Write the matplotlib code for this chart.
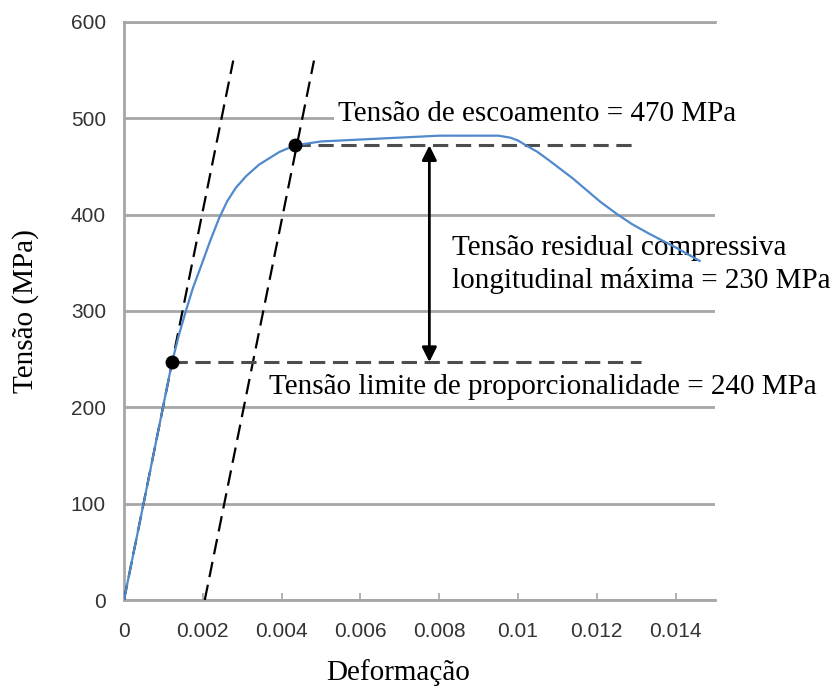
import numpy as np
import matplotlib
matplotlib.use("Agg")
import matplotlib.pyplot as plt

# ---- data ----
strain = [0, 0.0006, 0.00122, 0.00140, 0.00157, 0.00175, 0.00195, 0.00218, 0.00241,
          0.00262, 0.00284, 0.00310, 0.00343, 0.00394, 0.00434, 0.0050, 0.0060, 0.0070,
          0.0080, 0.0090, 0.0095, 0.0098, 0.0100, 0.0102, 0.0105, 0.0108, 0.01138,
          0.0121, 0.0125, 0.0129, 0.01334, 0.0140, 0.01461]
stress = [0, 121, 247, 276, 300, 324, 346, 372, 396,
          414, 428, 440, 452, 465, 472, 476, 478, 480,
          482, 482, 482, 480, 477, 472, 465, 456, 438,
          413, 401, 390, 380, 366, 352]

E_mod = 202000          # slope of the elastic dashed lines (MPa)
offset = 0.00205        # offset of second elastic line
line_top = 560          # top stress of elastic dashed lines
prop_pt = (0.00122, 247)
yield_pt = (0.00434, 472)
hline_end = [0.01296, 0.01313]
arrow_x = 0.00775

xticks = [0, 0.002, 0.004, 0.006, 0.008, 0.01, 0.012, 0.014]
xticklabels = ["0", "0.002", "0.004", "0.006", "0.008", "0.01", "0.012", "0.014"]
yticks = [0, 100, 200, 300, 400, 500, 600]

serif = "Liberation Serif"
sans = "Liberation Sans"

fig = plt.figure(figsize=(8.4, 6.89), dpi=100)
ax = fig.add_axes([124/840, 89/689, 591/840, 578/689])
ax.set_xlim(0, 0.015)
ax.set_ylim(0, 600)

grid_c = "#a6a6a6"
ax.set_axisbelow(True)
ax.yaxis.grid(True, color=grid_c, lw=2)
ax.xaxis.grid(False)
ax.spines["right"].set_visible(False)
for s in ["left", "bottom", "top"]:
    ax.spines[s].set_color(grid_c)
    ax.spines[s].set_linewidth(2)

ax.set_xticks(xticks)
ax.set_xticklabels(xticklabels, fontfamily=sans, fontsize=15, color="#333333")
ax.set_yticks(yticks)
ax.set_yticklabels([str(v) for v in yticks], fontfamily=sans, fontsize=15, color="#333333")
ax.tick_params(axis="x", direction="in", length=5, color=grid_c, width=1.2, pad=16)
ax.tick_params(axis="y", length=0, pad=13)

# elastic dashed lines
ax.plot([0, line_top / E_mod], [0, line_top], ls=(0, (7, 3.5)), color="black", lw=1.6, zorder=3)
ax.plot([offset, offset + line_top / E_mod], [0, line_top], ls=(0, (7, 3.5)), color="black",
        lw=1.6, zorder=3)

# horizontal dashed lines
ax.plot([yield_pt[0], hline_end[0]], [yield_pt[1], yield_pt[1]], ls=(0, (5, 2.5)),
        color="#4d4d4d", lw=2.2, zorder=3)
ax.plot([prop_pt[0], hline_end[1]], [prop_pt[1], prop_pt[1]], ls=(0, (5, 2.5)),
        color="#4d4d4d", lw=2.2, zorder=3)

# curve
ax.plot(strain, stress, color="#5089cc", lw=1.6, zorder=5, solid_joinstyle="round")

# points
ax.plot([prop_pt[0], yield_pt[0]], [prop_pt[1], yield_pt[1]], "o", color="black",
        ms=9, zorder=6)

# double arrow
ax.annotate("", xy=(arrow_x, yield_pt[1]), xytext=(arrow_x, prop_pt[1]),
            arrowprops=dict(arrowstyle="<|-|>", color="black", lw=2,
                            mutation_scale=22, shrinkA=0, shrinkB=0), zorder=6)

# annotation texts
box = dict(facecolor="white", edgecolor="none", boxstyle="square,pad=0.15")
ax.text(0.00543, 497, "Tensão de escoamento = 470 MPa", fontfamily=serif, fontsize=21,
        va="baseline", ha="left", bbox=box, zorder=4)
ax.text(0.00833, 358, "Tensão residual compressiva", fontfamily=serif, fontsize=21,
        va="baseline", ha="left", zorder=4)
ax.text(0.00833, 324, "longitudinal máxima = 230 MPa", fontfamily=serif, fontsize=21,
        va="baseline", ha="left", zorder=4)
ax.text(0.00369, 214, "Tensão limite de proporcionalidade = 240 MPa", fontfamily=serif,
        fontsize=21, va="baseline", ha="left", zorder=4)

# axis labels
fig.text(398/840, 1 - 680/689, "Deformação", fontfamily=serif, fontsize=21,
         ha="center", va="baseline")
fig.text(26/840, 1 - 311/689, "Tensão (MPa)", fontfamily=serif, fontsize=21,
         ha="center", va="center", rotation=90)

fig.savefig("out.png", dpi=100)
